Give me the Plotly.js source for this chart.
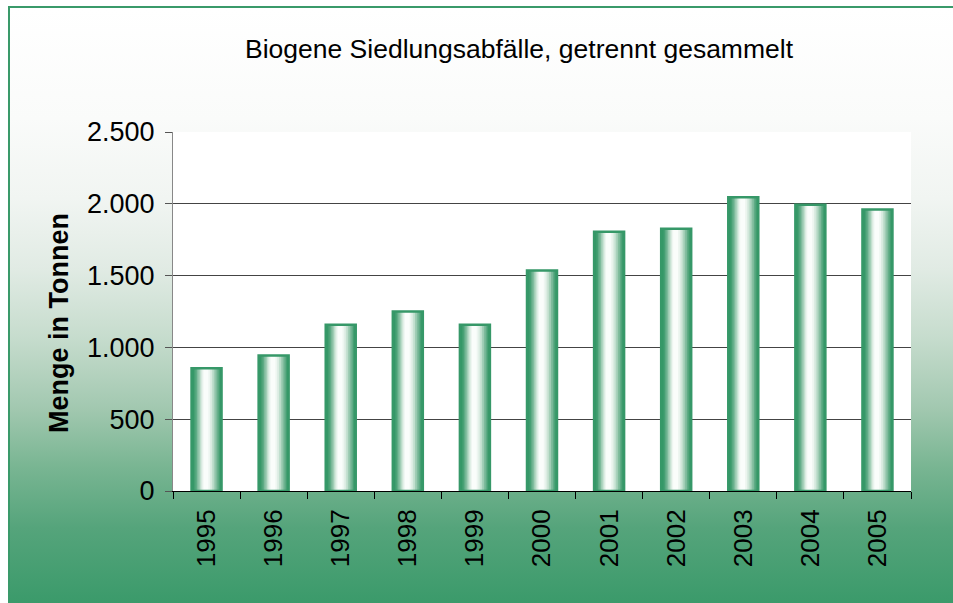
<!DOCTYPE html>
<html>
<head>
<meta charset="utf-8">
<script src="https://cdn.plot.ly/plotly-3.0.1.min.js"></script>
<style>
  html, body { margin: 0; padding: 0; width: 953px; height: 603px; overflow: hidden; background: #ffffff; }
  #bg {
    position: absolute; left: 8px; top: 6px; width: 945px; height: 597px;
    border-left: 2px solid #3a9a6a; border-top: 2px solid #3a9a6a;
    background: linear-gradient(to bottom, #ffffff 0px, #fafbfa 110px, #f1f5f2 190px, #e1ebe4 260px, #c6dccd 330px, #a2c8b0 400px, #78b592 460px, #55a47b 520px, #3a9a6a 597px);
  }
  #chart { position: absolute; left: 0; top: 0; width: 953px; height: 603px; }
</style>
</head>
<body>
<div id="bg"></div>
<div id="chart"></div>
<script>
// ---- data ----
const years = ["1995","1996","1997","1998","1999","2000","2001","2002","2003","2004","2005"];
const tonnes = [855, 943, 1158, 1250, 1158, 1535, 1805, 1827, 2045, 1993, 1960];
const yTickVals = [0, 500, 1000, 1500, 2000, 2500];
const yTickText = ["0", "500", "1.000", "1.500", "2.000", "2.500"];
const chartTitle = "Biogene Siedlungsabfälle, getrennt gesammelt";
const yTitle = "Menge in Tonnen";

// ---- cylindrical bar shading (nested layers: left, right fraction, colour) ----
const W = 0.447;
const shading = [
  [0.00, 1.00, "#369868"],
  [0.08, 0.95, "#459f72"],
  [0.13, 0.91, "#5eab85"],
  [0.18, 0.86, "#7ebb9c"],
  [0.23, 0.80, "#a0cdb5"],
  [0.28, 0.74, "#c1dfce"],
  [0.32, 0.68, "#dbece2"],
  [0.36, 0.62, "#eef6f1"],
  [0.40, 0.56, "#fafdfb"]
];

const traces = shading.map(function (s) {
  return {
    type: "bar", x: years, y: tonnes,
    width: (s[1] - s[0]) * W,
    offset: -W / 2 + s[0] * W,
    marker: { color: s[2], line: { width: 0 } },
    hoverinfo: "skip", showlegend: false
  };
});
traces.push({
  type: "bar", x: years, y: tonnes, width: W, offset: -W / 2,
  marker: { color: "rgba(0,0,0,0)", line: { color: "#369868", width: 2.5 } },
  hoverinfo: "skip", showlegend: false
});

const fontFam = "Liberation Sans, Arial, sans-serif";
const layout = {
  width: 953, height: 603,
  margin: { l: 173, r: 42, t: 132, b: 112, pad: 0 },
  paper_bgcolor: "rgba(0,0,0,0)",
  plot_bgcolor: "#ffffff",
  barmode: "overlay",
  showlegend: false,
  font: { family: fontFam, color: "#000000" },
  title: {
    text: chartTitle,
    font: { family: fontFam, size: 26.5, color: "#000000" },
    xref: "container", yref: "container",
    x: 0.5446, xanchor: "center", y: 0.92, yanchor: "middle"
  },
  xaxis: {
    type: "category",
    tickson: "boundaries",
    ticks: "outside", ticklen: 7, tickcolor: "#000000", tickwidth: 1,
    tickangle: -90,
    ticklabelstandoff: 7,
    tickfont: { family: fontFam, size: 26, color: "#000000" },
    showline: true, linecolor: "#000000", linewidth: 1,
    showgrid: false, zeroline: false
  },
  yaxis: {
    range: [0, 2500],
    tickvals: yTickVals, ticktext: yTickText,
    ticks: "outside", ticklen: 7, tickcolor: "#555555", tickwidth: 1,
    ticklabelstandoff: 5,
    tickfont: { family: fontFam, size: 27, color: "#000000" },
    showgrid: true, gridcolor: "#444444", gridwidth: 1,
    showline: true, linecolor: "#888888", linewidth: 1,
    zeroline: false
  },
  annotations: [{
    text: "<b>" + yTitle + "</b>",
    xref: "paper", yref: "paper",
    x: -0.1545, y: 0.468, xanchor: "center", yanchor: "middle",
    textangle: -90, showarrow: false,
    font: { family: fontFam, size: 27, color: "#000000" }
  }]
};

Plotly.newPlot("chart", traces, layout, { displayModeBar: false, staticPlot: true });
</script>
</body>
</html>
